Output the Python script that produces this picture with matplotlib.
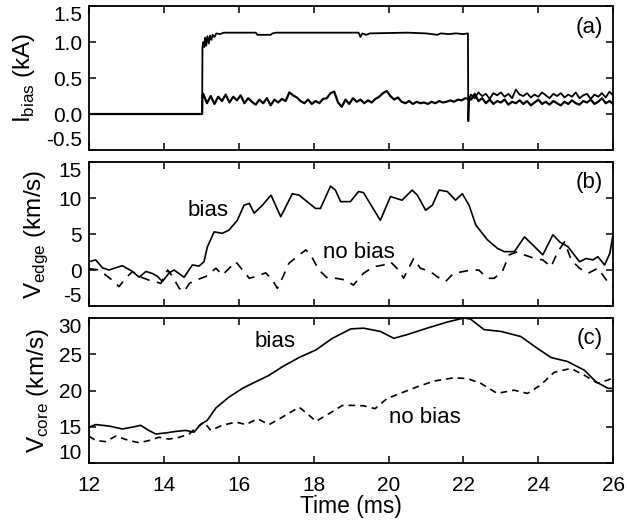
import numpy as np
import matplotlib
matplotlib.use('Agg')
import matplotlib.pyplot as plt

plt.rcParams['font.family'] = ['Liberation Sans', 'DejaVu Sans']
plt.rcParams['mathtext.fontset'] = 'custom'
plt.rcParams['mathtext.rm'] = 'Liberation Sans'
plt.rcParams['axes.unicode_minus'] = False

# ---- panel (a): bias current (kA) ----
# upper trace, while bias is on
t_ia_on = [15.03, 15.05, 15.08, 15.10, 15.13, 15.16, 15.20, 15.23, 15.27, 15.30,
           15.35, 15.40, 15.50, 15.60, 16.45, 16.50, 16.85, 16.90, 17.00, 19.20,
           19.25, 19.30, 19.40, 19.50, 20.50, 21.00, 21.30, 21.40, 21.60, 21.80,
           22.00, 22.12]
ia_on = [0.92, 1.00, 0.93, 1.06, 0.95, 1.08, 0.98, 1.09, 1.03, 1.10,
         1.07, 1.12, 1.11, 1.13, 1.13, 1.10, 1.10, 1.12, 1.13, 1.13,
         1.07, 1.12, 1.10, 1.12, 1.13, 1.12, 1.10, 1.12, 1.11, 1.12,
         1.11, 1.12]
# lower trace, 15.05 .. 22.05 ms every 0.1 ms
ia_low = [0.28, 0.15, 0.25, 0.14, 0.24, 0.18, 0.27, 0.16, 0.24, 0.19,
          0.26, 0.15, 0.22, 0.17, 0.13, 0.20, 0.15, 0.22, 0.12, 0.20,
          0.16, 0.21, 0.18, 0.30, 0.26, 0.23, 0.18, 0.15, 0.20, 0.14,
          0.18, 0.15, 0.21, 0.22, 0.29, 0.31, 0.16, 0.10, 0.20, 0.14,
          0.22, 0.17, 0.20, 0.15, 0.19, 0.16, 0.21, 0.24, 0.29, 0.32,
          0.25, 0.20, 0.23, 0.17, 0.15, 0.18, 0.14, 0.17, 0.15, 0.16,
          0.14, 0.17, 0.15, 0.18, 0.16, 0.17, 0.19, 0.17, 0.20, 0.19,
          0.22]
# after bias turn-off, 22.2 .. 26.0 ms every 0.1 ms
ia_after_a = [0.27, 0.22, 0.30, 0.25, 0.28, 0.21, 0.29, 0.26, 0.30, 0.24,
              0.28, 0.22, 0.34, 0.27, 0.25, 0.29, 0.23, 0.27, 0.24, 0.30,
              0.26, 0.22, 0.28, 0.25, 0.29, 0.23, 0.27, 0.24, 0.30, 0.22,
              0.26, 0.28, 0.21, 0.27, 0.24, 0.29, 0.23, 0.31, 0.26]
ia_after_b = [0.20, 0.28, 0.18, 0.22, 0.15, 0.20, 0.14, 0.18, 0.16, 0.20,
              0.13, 0.17, 0.15, 0.19, 0.14, 0.18, 0.12, 0.16, 0.20, 0.14,
              0.17, 0.13, 0.18, 0.15, 0.12, 0.17, 0.14, 0.19, 0.15, 0.13,
              0.18, 0.16, 0.20, 0.14, 0.17, 0.22, 0.15, 0.18, 0.14]

# ---- panel (b): edge velocity (km/s) ----
t_edge_bias = [12.00, 12.18, 12.36, 12.53, 12.89, 13.16, 13.34, 13.52, 13.70, 13.83,
               13.96, 14.14, 14.27, 14.54, 14.76, 14.94, 15.07, 15.16, 15.34, 15.56,
               15.74, 15.96, 16.14, 16.28, 16.41, 16.63, 16.86, 17.12, 17.43, 17.61,
               18.05, 18.18, 18.45, 18.58, 18.72, 18.98, 19.20, 19.33, 19.78, 20.05,
               20.36, 20.63, 20.77, 20.99, 21.17, 21.35, 21.57, 21.79, 21.97, 22.15,
               22.33, 22.64, 22.91, 23.09, 23.36, 23.63, 23.85, 24.12, 24.39, 24.57,
               24.79, 25.10, 25.28, 25.46, 25.59, 25.77, 25.91, 26.00]
v_edge_bias = [1.15, 1.4, 0.3, 0.0, 0.6, -0.2, -1.0, -0.2, -0.5, -0.9,
               -1.6, -0.4, 0.0, -1.0, 0.7, 0.55, 1.15, 3.2, 5.3, 5.1,
               5.55, 6.9, 9.0, 9.25, 7.9, 9.0, 10.4, 7.4, 10.6, 10.4,
               8.55, 8.55, 11.65, 11.1, 9.5, 9.5, 10.9, 10.75, 6.9, 10.2,
               9.7, 11.1, 10.4, 8.3, 9.0, 11.1, 10.9, 9.7, 10.6, 9.0,
               6.25, 4.2, 3.0, 2.55, 2.55, 4.6, 3.5, 2.1, 4.9, 3.9,
               3.25, 1.15, 1.6, 1.4, 1.85, 0.7, 2.3, 5.1]
t_edge_nobias = [12.00, 12.27, 12.62, 12.80, 12.98, 13.16, 13.34, 13.60, 13.92, 14.10,
                 14.23, 14.41, 14.54, 14.68, 14.86, 15.12, 15.39, 15.56, 15.92, 16.10,
                 16.28, 16.45, 16.72, 16.90, 17.03, 17.16, 17.34, 17.56, 17.79, 17.92,
                 18.14, 18.37, 18.60, 18.86, 19.06, 19.33, 19.60, 19.87, 20.05, 20.27,
                 20.40, 20.67, 20.85, 21.11, 21.29, 21.52, 21.74, 22.01, 22.19, 22.41,
                 22.64, 22.82, 23.04, 23.22, 23.45, 23.63, 23.90, 24.12, 24.34, 24.52,
                 24.70, 24.88, 25.10, 25.33, 25.59, 25.82, 26.00]
v_edge_nobias = [0.2, 0.0, -1.4, -2.3, -1.15, -0.2, -0.9, -1.4, -1.85, 0.0,
                 -0.9, -2.55, -3.0, -1.85, -1.4, -0.9, 0.25, -0.7, 1.15, 0.0,
                 -1.15, -0.9, -0.4, -1.4, -2.55, -1.15, 0.95, 1.85, 2.8, 2.1,
                 0.0, -1.15, -1.15, -1.4, -2.1, -0.45, 0.45, 0.7, 1.15, 0.0,
                 -1.15, 1.6, 0.25, -0.2, -0.9, -1.6, -0.45, -0.2, 0.0, 0.0,
                 -1.15, -1.15, -0.2, 2.1, 2.55, 2.1, 1.6, 1.4, 0.45, 2.55,
                 3.9, 1.4, 0.25, -0.45, 0.25, -1.4, -2.3]

# ---- panel (c): core velocity (km/s) ----
t_core_bias = [12.00, 12.18, 12.53, 12.89, 13.16, 13.38, 13.56, 13.78, 14.05, 14.31,
               14.58, 14.80, 14.98, 15.16, 15.39, 15.74, 16.10, 16.45, 16.81, 17.17,
               17.61, 18.06, 18.50, 18.99, 19.33, 19.78, 20.14, 20.49, 21.03, 21.57,
               22.01, 22.19, 22.55, 23.00, 23.53, 23.98, 24.34, 24.78, 25.23, 25.54,
               25.86, 26.00]
v_core_bias = [14.95, 15.3, 15.1, 14.7, 14.95, 15.2, 14.6, 14.0, 14.15, 14.35,
               14.5, 14.25, 15.3, 15.9, 17.6, 19.1, 20.3, 21.2, 22.1, 23.3,
               24.55, 25.6, 27.2, 28.5, 28.6, 28.15, 27.2, 27.7, 28.6, 29.45,
               30.0, 29.85, 28.4, 28.15, 27.45, 25.8, 24.55, 24.0, 22.8, 21.2,
               20.3, 20.3]
t_core_nobias = [12.00, 12.18, 12.44, 12.71, 13.07, 13.34, 13.60, 13.87, 14.14, 14.41,
                 14.67, 14.85, 15.07, 15.25, 15.56, 15.92, 16.19, 16.50, 16.81, 17.17,
                 17.61, 17.83, 18.06, 18.41, 18.77, 19.00, 19.33, 19.64, 19.96, 20.31,
                 20.76, 21.21, 21.74, 22.10, 22.46, 22.90, 23.35, 23.71, 24.06, 24.42,
                 24.87, 25.23, 25.59, 25.86, 26.00]
v_core_nobias = [13.7, 13.1, 12.95, 13.7, 13.1, 12.8, 13.1, 13.55, 13.3, 13.55,
                 14.0, 14.8, 15.65, 14.5, 15.2, 15.65, 15.3, 16.1, 15.3, 16.35,
                 17.7, 16.8, 15.75, 16.8, 17.95, 17.95, 17.9, 17.5, 18.9, 19.6,
                 20.5, 21.3, 21.75, 21.65, 21.0, 19.6, 20.05, 19.6, 20.75, 22.5,
                 23.05, 22.1, 21.0, 21.45, 21.75]

xticks = [12, 14, 16, 18, 20, 22, 24, 26]
yticks_a = [-0.5, 0.0, 0.5, 1.0, 1.5]
yticks_b = [-5, 0, 5, 10, 15]
yticks_c = [10, 15, 20, 25, 30]


def style_axis(ax, yticks, fmt):
    ax.set_xlim(12, 26)
    ax.set_ylim(yticks[0], yticks[-1])
    ax.set_xticks(xticks)
    ax.set_yticks(yticks)
    ax.set_yticklabels([fmt.format(v) for v in yticks])
    ax.tick_params(direction='in', top=True, right=True, length=5, width=1.1,
                   labelsize=15)
    ax.tick_params(axis='y', pad=5)
    ax.tick_params(axis='x', pad=9)
    for s in ax.spines.values():
        s.set_linewidth(1.3)
    # keep the edge labels inside the frame, as in the original
    ticks = ax.yaxis.get_major_ticks()
    ticks[0].label1.set_va('bottom')
    ticks[-1].label1.set_va('top')


fig = plt.figure(figsize=(6.27, 5.24), dpi=100)
L, W = 0.142, 0.836
ax_a = fig.add_axes([L, 0.7137, W, 0.2748])
ax_b = fig.add_axes([L, 0.4160, W, 0.2748])
ax_c = fig.add_axes([L, 0.1164, W, 0.2767])

# panel (a)
t_low = np.round(15.05 + 0.1 * np.arange(len(ia_low)), 2)
t_after = np.round(22.2 + 0.1 * np.arange(len(ia_after_a)), 2)
t_up = [12.0, 15.02] + t_ia_on + [22.13, 22.15] + list(t_after)
i_up = [0.0, 0.0] + ia_on + [-0.10, 0.20] + ia_after_a
t_lo = [12.0, 15.02, 15.03] + list(t_low) + list(t_after)
i_lo = [0.0, 0.0, 0.26] + ia_low + ia_after_b
ax_a.plot(t_up, i_up, color='black', lw=1.3)
ax_a.plot(t_lo, i_lo, color='black', lw=1.6)
style_axis(ax_a, yticks_a, '{:.1f}')
ax_a.set_xticklabels([])
ax_a.set_ylabel(r'I$_{\mathrm{bias}}$ (kA)', fontsize=17.5)
ax_a.yaxis.set_label_coords(-0.10, 0.5)
ax_a.text(0.98, 0.85, '(a)', transform=ax_a.transAxes, ha='right', va='center',
          fontsize=16)

# panel (b)
ax_b.plot(t_edge_bias, v_edge_bias, color='black', lw=1.2)
ax_b.plot(t_edge_nobias, v_edge_nobias, color='black', lw=1.2,
          linestyle=(0, (5.5, 4.5)))
style_axis(ax_b, yticks_b, '{:d}')
ax_b.set_xticklabels([])
ax_b.set_ylabel(r'V$_{\mathrm{edge}}$ (km/s)', fontsize=17.5)
ax_b.yaxis.set_label_coords(-0.075, 0.5)
ax_b.text(15.18, 8.3, 'bias', ha='center', va='center', fontsize=16)
ax_b.text(19.2, 2.4, 'no bias', ha='center', va='center', fontsize=16)
ax_b.text(0.98, 0.86, '(b)', transform=ax_b.transAxes, ha='right', va='center',
          fontsize=16)

# panel (c)
ax_c.plot(t_core_bias, v_core_bias, color='black', lw=1.2)
ax_c.plot(t_core_nobias, v_core_nobias, color='black', lw=1.2,
          linestyle=(0, (4, 3)))
style_axis(ax_c, yticks_c, '{:d}')
ax_c.set_ylabel(r'V$_{\mathrm{core}}$ (km/s)', fontsize=17.5)
ax_c.yaxis.set_label_coords(-0.072, 0.5)
ax_c.set_xlabel('Time (ms)', fontsize=16.5, labelpad=0)
ax_c.text(16.97, 26.7, 'bias', ha='center', va='center', fontsize=16)
ax_c.text(20.98, 16.25, 'no bias', ha='center', va='center', fontsize=16)
ax_c.text(0.98, 0.86, '(c)', transform=ax_c.transAxes, ha='right', va='center',
          fontsize=16)

fig.savefig('out.png', dpi=100)
